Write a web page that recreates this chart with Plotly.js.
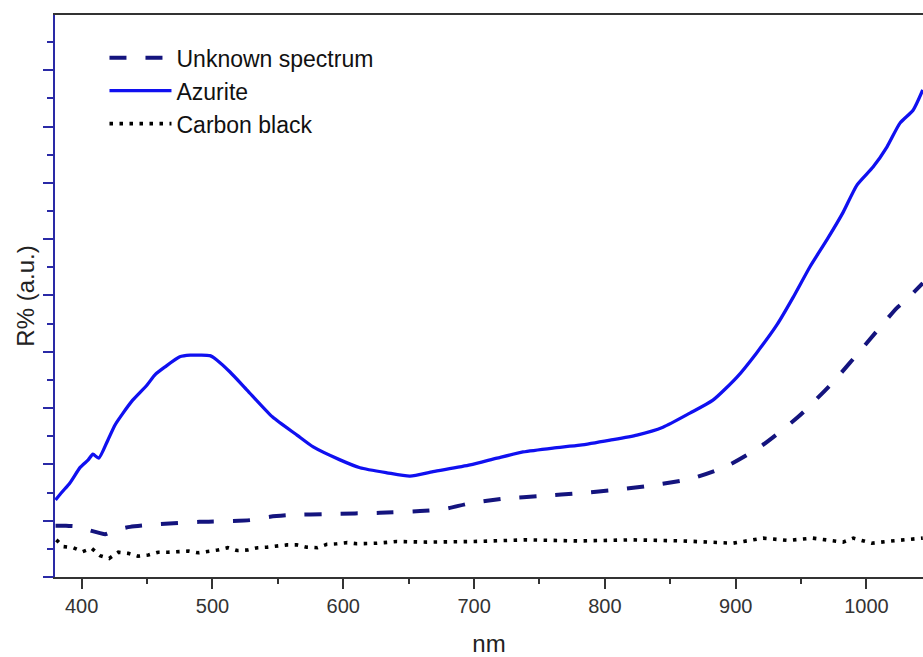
<!DOCTYPE html>
<html>
<head>
<meta charset="utf-8">
<script src="https://cdn.plot.ly/plotly-3.0.1.min.js"></script>
<style>html,body{margin:0;padding:0;background:#fff;}#chart{width:923px;height:657px;}</style>
</head>
<body>
<div id="chart"></div>
<script>
// Azurite reflectance (a.u.)
const azuriteNm = [380,385,391,399,405,408.6,413,420,425.5,431.6,439,450,456,463.7,475,483,490.4,498,503.5,513.4,526.4,546,564.6,577,597.5,612.8,633.4,651,668.6,697,717.5,737.4,760.3,781,804,824.5,844.4,865,882.6,901,916,931.6,943.8,956.8,969.8,982,992.7,1005,1015.7,1025.6,1035.6,1043];
const azuriteR  = [1.37,1.51,1.67,1.95,2.08,2.18,2.11,2.43,2.70,2.91,3.14,3.41,3.59,3.73,3.91,3.94,3.94,3.93,3.85,3.64,3.32,2.84,2.52,2.31,2.08,1.94,1.85,1.79,1.87,1.99,2.11,2.22,2.29,2.34,2.43,2.52,2.66,2.91,3.14,3.55,3.98,4.48,4.96,5.51,5.99,6.47,6.96,7.28,7.64,8.06,8.29,8.65];

// Unknown spectrum (a.u.)
const unknownNm = [380,388,399,406,414,418,425.5,437,460,490,528.7,544,559,590,628,658.7,677.8,697,722.6,752.4,781,809.6,837,865,893.3,918.6,947.6,974.4,998.9,1023.3,1029.4,1043];
const unknownR  = [0.91,0.91,0.89,0.83,0.78,0.76,0.83,0.89,0.94,0.98,1.01,1.07,1.10,1.12,1.14,1.17,1.21,1.31,1.39,1.44,1.49,1.55,1.63,1.74,1.97,2.31,2.84,3.46,4.12,4.78,4.90,5.22];

// Carbon black (a.u.)
const carbonNm = [380.6,386,393.6,400.8,407.6,414,421,428,435.6,443,451,458.6,466,474,481.5,489,496.8,504,511.6,519,527,534.6,542,549,557,564.6,572,580,587.5,595,603,610.5,625.8,641,664,700,740,780,821,860,898,921,940,959,970,982,990,1004,1015,1033,1043];
const carbonR  = [0.66,0.54,0.52,0.45,0.51,0.38,0.33,0.44,0.42,0.37,0.39,0.44,0.44,0.45,0.46,0.43,0.45,0.48,0.52,0.47,0.48,0.52,0.53,0.55,0.57,0.57,0.53,0.52,0.58,0.59,0.61,0.59,0.60,0.63,0.62,0.63,0.66,0.64,0.66,0.64,0.60,0.69,0.65,0.69,0.66,0.62,0.69,0.60,0.63,0.67,0.69];

const seriesNames = ["Unknown spectrum", "Azurite", "Carbon black"];

const traces = [
  {x: unknownNm, y: unknownR, name: seriesNames[0], mode: "lines",
   line: {color: "#14147e", width: 4, dash: "17px,19px", shape: "spline", smoothing: 0.6}},
  {x: azuriteNm, y: azuriteR, name: seriesNames[1], mode: "lines",
   line: {color: "#1010f0", width: 3.3, shape: "spline", smoothing: 0.6}},
  {x: carbonNm, y: carbonR, name: seriesNames[2], mode: "lines",
   line: {color: "#000000", width: 3.6, dash: "3.5px,6.5px"}}
];

const layout = {
  width: 923, height: 657,
  margin: {l: 55, r: 0, t: 15, b: 80},
  paper_bgcolor: "#ffffff", plot_bgcolor: "#ffffff",
  font: {family: "Liberation Sans, Arial, sans-serif", color: "#222"},
  showlegend: true,
  legend: {x: 0.057, y: 0.962, xanchor: "left", yanchor: "top",
           bgcolor: "rgba(0,0,0,0)", font: {size: 23, color: "#111"},
           itemwidth: 62, tracegroupgap: 0},
  xaxis: {
    range: [379.6, 1043.2], showgrid: false, zeroline: false,
    showline: true, linecolor: "#333", linewidth: 2, mirror: true,
    ticks: "outside", ticklen: 10, tickwidth: 2, tickcolor: "#333",
    tick0: 400, dtick: 100,
    minor: {ticks: "outside", ticklen: 5, tickwidth: 2, tickcolor: "#333", dtick: 50, tick0: 400, showgrid: false},
    tickfont: {size: 20, color: "#333"},
    title: {text: "nm", font: {size: 24, color: "#222"}, standoff: 22}
  },
  yaxis: {
    range: [0, 9.98], showgrid: false, zeroline: false,
    showline: true, linecolor: "#2a2aa6", linewidth: 2,
    ticks: "outside", ticklen: 10, tickwidth: 2, tickcolor: "#2a2aa6",
    tick0: 0, dtick: 1, showticklabels: false,
    minor: {ticks: "outside", ticklen: 6, tickwidth: 2, tickcolor: "#2a2aa6", dtick: 0.5, showgrid: false},
    title: {text: "R% (a.u.)", font: {size: 24, color: "#222"}, standoff: 2}
  }
};

Plotly.newPlot("chart", traces, layout, {displayModeBar: false, staticPlot: true});
</script>
</body>
</html>
